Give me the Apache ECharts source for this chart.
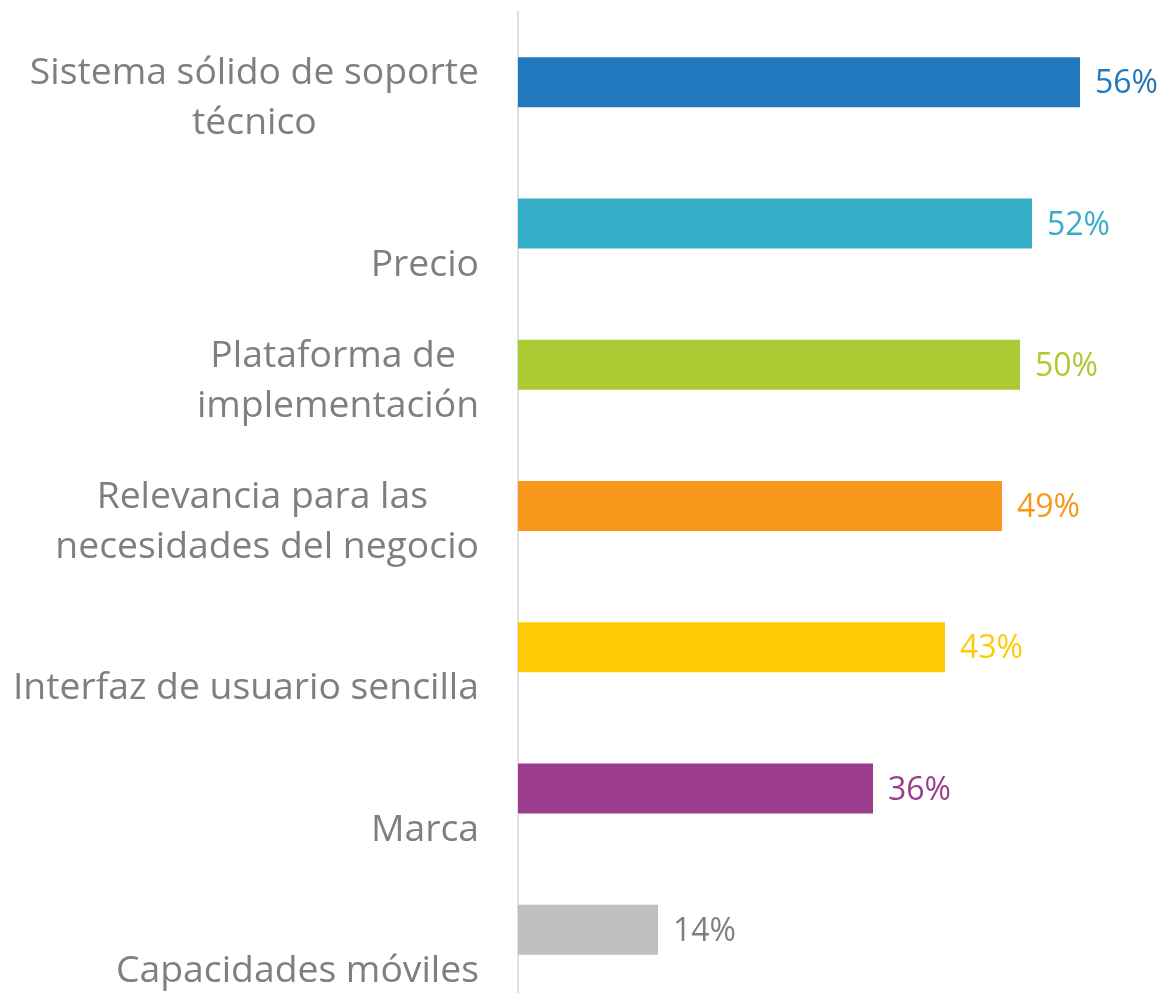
<!DOCTYPE html>
<html>
<head>
<meta charset="utf-8">
<script src="https://cdn.jsdelivr.net/npm/echarts@6/dist/echarts.min.js"></script>
<style>
html,body{margin:0;padding:0;background:#fff;}
#chart{width:1160px;height:993px;}
</style>
</head>
<body>
<div id="chart"></div>
<script>
// Categories (top to bottom), split into displayed lines
const categories = [
  ["Sistema sólido de soporte", "técnico"],
  ["Precio"],
  ["Plataforma de ", "implementación"],
  ["Relevancia para las ", "necesidades del negocio"],
  ["Interfaz de usuario sencilla"],
  ["Marca"],
  ["Capacidades móviles"]
];
// Bar lengths (percent)
const values = [56.2, 51.4, 50.2, 48.4, 42.7, 35.5, 14.0];
// Printed value labels
const valueLabels = ["56%", "52%", "50%", "49%", "43%", "36%", "14%"];
const barColors = ["#2278bd", "#36aec8", "#abca33", "#f7981d", "#fdcc07", "#9c3c8d", "#bfbfbf"];
const labelColors = ["#2278bd", "#36aec8", "#abca33", "#f7981d", "#fdcc07", "#9c3c8d", "#7f7f7f"];

const FONT = "'Open Sans', 'Noto Sans', sans-serif";
const LH = 50;
const OFF = 41.5;
const catKeys = categories.map((c, i) => "c" + i);

const chart = echarts.init(document.getElementById('chart'), null, {renderer: 'canvas'});
const option = {
  animation: false,
  backgroundColor: '#ffffff',
  grid: {left: 518, top: 11.5, width: 600, height: 989, containLabel: false, outerBoundsMode: 'none'},
  xAxis: {
    type: 'value', min: 0, max: 60, show: false
  },
  yAxis: {
    type: 'category',
    inverse: true,
    data: catKeys,
    axisLine: {show: true, lineStyle: {color: '#e0e0e0', width: 2}},
    axisTick: {show: false},
    splitLine: {show: false},
    axisLabel: {
      interval: 0,
      margin: 39,
      align: 'right',
      verticalAlign: 'middle',
      fontFamily: FONT,
      fontSize: 37.3,
      color: '#7f7f7f',
      formatter: function (val, idx) {
        const lines = categories[idx];
        const n = lines.length;
        const key = n === 1 ? 'b1' : 'b2';
        return '{' + key + '| }\n' + lines.map(l => '{t|' + l + '}').join('\n');
      },
      rich: {
        t: {fontFamily: FONT, fontSize: 37.3, color: '#7f7f7f', lineHeight: LH, align: 'center'},
        b1: {fontSize: 10, lineHeight: 2 * OFF, align: 'center'},
        b2: {fontSize: 10, lineHeight: 2 * OFF - LH, align: 'center'}
      }
    }
  },
  series: [{
    type: 'bar',
    barWidth: 50,
    data: values.map((v, i) => ({value: v, itemStyle: {color: barColors[i]}, label: {color: labelColors[i]}})),
    label: {
      show: true,
      position: 'right',
      distance: 15,
      offset: [0, 2],
      fontFamily: FONT,
      fontSize: 32,
      formatter: p => valueLabels[p.dataIndex]
    }
  }]
};
chart.setOption(option);
</script>
</body>
</html>
